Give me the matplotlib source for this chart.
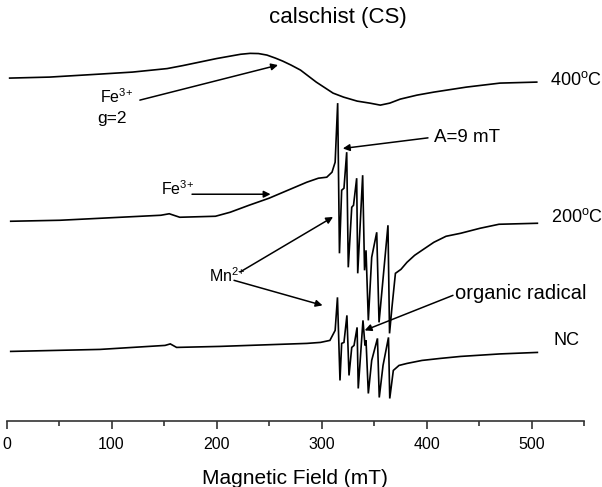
import matplotlib
matplotlib.use("Agg")
from matplotlib import pyplot as plt
from matplotlib.ticker import MultipleLocator

# EPR spectra of calschist, intensity in arbitrary units (curves stacked)
field_400 = [3, 41, 89, 120, 153, 168, 184, 200, 216, 223, 232, 240, 248, 256, 263, 271,
             280, 295, 311, 321, 334, 346, 356, 365, 375, 391, 407, 438, 470, 505]
signal_400 = [342, 343, 346, 348, 351.5, 354.5, 358, 361.5, 364.5, 365.8, 366.7, 366.5, 365, 362, 359, 355,
              350, 338, 327, 323, 319, 317, 315, 317, 321, 325, 328, 333, 337, 338]

field_200 = [4, 51, 147, 155, 165, 199, 213, 231, 250, 268, 286, 297, 305, 310, 313,
             315.4, 317.1, 319.2, 321.4, 324, 325.5, 328.8, 330.5, 333.5, 334.5, 339.2,
             341, 342.4, 344.6, 347.8, 352.6, 354.8, 363.3, 364.8, 367.1, 370.4, 375.7,
             381.4, 388.7, 395.7, 407, 418.6, 432.5, 451, 469, 505.6]
signal_200 = [199, 200, 205, 206.5, 203, 204, 208, 215, 222, 230, 238, 242, 243, 248, 258,
              317, 167, 230, 232, 268, 153, 213, 215, 242, 147, 245,
              150, 170, 100, 163, 188, 98, 195, 87, 113, 147, 151,
              158, 165, 170, 178, 184, 187, 192, 196, 197]

field_nc = [4, 89, 151, 156, 162, 203, 286, 299, 308, 313, 315.2, 317.6, 319.2, 321.4,
            324.2, 326.2, 328.8, 331, 333.9, 335, 339.5, 341.4, 342.4, 344.6, 347.8,
            353.3, 355, 358.6, 363.8, 365, 368.4, 373.8, 381.4, 395.7, 413, 432.5, 470, 505.6]
signal_nc = [69, 71, 75, 76.5, 73, 74, 77, 78, 80, 90, 123, 40, 77, 78,
             105, 45, 73, 75, 93, 32, 100, 75, 80, 27, 60,
             82, 23, 55, 83, 22, 50, 55, 57, 60, 62, 64, 66.5, 68]


def main():
    plt.rcParams.update({
        "font.family": ["Liberation Sans", "DejaVu Sans"],
        "mathtext.fontset": "custom",
        "mathtext.rm": "Liberation Sans",
    })
    fig = plt.figure(figsize=(6.02, 4.87), dpi=100)
    ax = fig.add_axes([6.5 / 602, 66.5 / 487, 577.5 / 602, 420.5 / 487])

    for x, y in [(field_400, signal_400), (field_200, signal_200), (field_nc, signal_nc)]:
        ax.plot(x, y, color="black", lw=1.2, solid_joinstyle="miter")

    ax.set_xlim(0, 550)
    ax.set_ylim(0, 420)
    for side in ["left", "right", "top"]:
        ax.spines[side].set_visible(False)
    ax.spines["bottom"].set_linewidth(1.2)
    ax.spines["bottom"].set_color("#333333")
    ax.set_yticks([])
    ax.xaxis.set_major_locator(MultipleLocator(100))
    ax.xaxis.set_minor_locator(MultipleLocator(50))
    ax.tick_params(axis="x", which="major", length=6, width=1.2, pad=6, labelsize=11.5, color="#333333")
    ax.tick_params(axis="x", which="minor", length=3.5, width=1.2, color="#333333")
    ax.set_xlabel("Magnetic Field (mT)", fontsize=15, labelpad=12)
    fig.text(337.5 / 602, 1 - 17 / 487, "calschist (CS)", fontsize=16, ha="center", va="center")

    arrow = dict(arrowstyle="-|>", lw=1.1, color="black", mutation_scale=10, shrinkA=0, shrinkB=0)
    arrows = [((127, 320), (258.6, 355)),
              ((176.7, 226), (251.5, 226)),
              ((401.4, 282.3), (320.3, 271.7)),
              ((222.4, 148.3), (311, 203.3)),
              ((216.7, 140), (301, 115)),
              ((425.2, 125), (341.1, 90))]
    for tail, tip in arrows:
        ax.annotate("", xy=tip, xytext=tail, arrowprops=arrow)

    small = 11.5
    ax.text(89, 323.3, r"Fe$\mathregular{^{3{+}}}$", fontsize=small, va="center")
    ax.text(86.2, 302, "g=2", fontsize=12.5, va="center")
    ax.text(147.1, 232, r"Fe$\mathregular{^{3{+}}}$", fontsize=small, va="center")
    ax.text(407.1, 283, "A=9 mT", fontsize=13.5, va="center")
    ax.text(192.9, 145, r"Mn$\mathregular{^{2{+}}}$", fontsize=small, va="center")
    ax.text(427.1, 127.3, "organic radical", fontsize=14.5, va="center")
    ax.text(517.6, 340, r"400$\mathregular{^o}$C", fontsize=13, va="center")
    ax.text(519, 203, r"200$\mathregular{^o}$C", fontsize=13, va="center")
    ax.text(520.5, 80, "NC", fontsize=13, va="center")

    fig.savefig("out.png", dpi=100)


if __name__ == '__main__':
    main()
